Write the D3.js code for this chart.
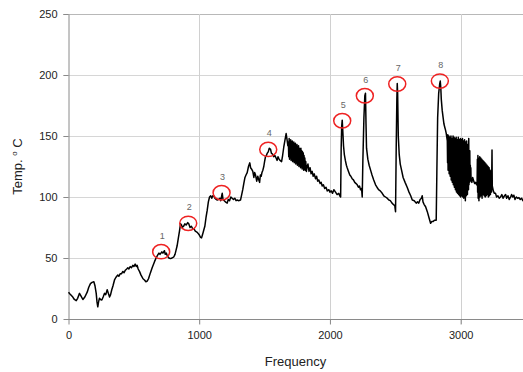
<!DOCTYPE html>
<html>
<head>
<meta charset="utf-8">
<script src="https://cdn.jsdelivr.net/npm/d3@7"></script>
<style>
  body { margin: 0; background: #fff; }
  svg { font-family: "Liberation Sans", Arial, sans-serif; }
</style>
</head>
<body>
<div id="chart"></div>
<script>
// temperature trace [frequency, temp]
const trace = [
  [0,22],[15,20],[33,18],[45,16],[59,15],[70,17],[84,21],[95,19],[110,16],[125,18],
  [143,22],[155,26],[168,29],[180,30],[194,30.5],[203,27],[212,21],[218,14],[224,10],[230,14],
  [237,17],[245,16],[255,15.6],[265,18],[275,21],[285,20],[296,24],[305,21],[314,18],[322,20],
  [331,24],[340,27],[352,32],[362,34],[377,36],[385,35],[395,37],[405,37],[416,39],[425,38],
  [435,40],[445,41],[454,42],[462,41],[472,43],[482,42],[492,44],[500,43],[510,45],[518,43],
  [525,44],[533,41],[543,39],[555,36],[570,33],[581,32],[592,30.5],[602,31],[612,33],[627,38],
  [640,42],[658,47],[670,50],[683,52.5],[692,54],[700,53],[714,55],[722,54],[734,56],[740,53],
  [748,54],[755,52],[768,50],[780,49.5],[792,50],[806,51],[815,53],[822,56],[831,60],[840,66],
  [849,72],[857,78],[865,77],[870,75],[880,76],[890,78],[900,77],[912,79],[920,78],[930,75],
  [940,76],[950,74],[959,74],[970,72],[985,71],[1000,69],[1010,67],[1018,66.5],[1025,69],[1035,73],
  [1043,76],[1053,84],[1061,89],[1070,96],[1079,100],[1088,101],[1096,99],[1104,101],[1112,100.8],[1120,99],
  [1130,98],[1138,97.5],[1148,98],[1158,99],[1165,97],[1172,101],[1176,103],[1182,98],[1192,97],[1200,96],
  [1214,95],[1222,98],[1232,97],[1242,100],[1252,99],[1262,98],[1272,99],[1282,97],[1290,97.5],[1300,97],
  [1316,97.5],[1325,102],[1333,106],[1341,111],[1350,116],[1358,118],[1367,120],[1377,125],[1387,128],[1393,124],
  [1400,123],[1410,121],[1418,116],[1424,120],[1431,118],[1440,113],[1448,117],[1456,114],[1462,112],[1468,118],
  [1474,117],[1480,120],[1487,122],[1494,125],[1500,129],[1507,133],[1514,134],[1521,136],[1528,137],[1536,140],
  [1546,139],[1552,136],[1562,135],[1570,133],[1579,134],[1588,132],[1596,130],[1603,133],[1609,131.5],[1618,130],
  [1630,129],[1638,134],[1647,141],[1655,146],[1665,152],[1672,147],[1678,142],
  // noisy stretch after peak 4
  [1682,145],[1685,133],[1688,148],[1691,131],[1694,146],[1697,134],[1700,147],[1703,130],[1706,145],[1709,132],
  [1712,146],[1715,129],[1718,144],[1721,131],[1724,145],[1727,128],[1730,143],[1733,130],[1736,144],[1739,127],
  [1742,142],[1745,129],[1748,143],[1751,126],[1754,141],[1757,128],[1760,142],[1763,125],[1766,140],[1769,127],
  [1772,139],[1775,124],[1778,140],[1781,126],[1784,138],[1787,123],[1790,137],[1793,125],[1796,136],[1799,122],
  [1802,134],[1805,124],[1808,132],[1811,122],[1815,129],[1820,121],[1826,125],
  [1832,127],[1840,121],[1848,124],[1856,119],[1864,121],[1872,117],[1880,119],[1890,115],[1898,117],[1906,113],
  [1915,114],[1925,111],[1933,112],[1941,109],[1950,110],[1960,107],[1970,108],[1980,105],[1992,106],[2000,104],
  [2010,105],[2020,103],[2030,106],[2043,104],[2055,102],[2068,103],[2075,101],[2082,100],
  // peak 5
  [2086,140],[2090,158],[2094,163],[2098,155],[2104,142],[2110,135],[2118,130],[2126,126],[2132,124],[2142,121],
  [2152,118],[2160,117],[2170,115],[2180,114],[2190,112],[2200,111],[2209,110],[2218,108],[2226,109],[2234,106],
  [2242,107],[2247,100],
  // peak 6
  [2252,130],[2260,165],[2267,183],[2272,185],[2276,160],[2280,140],[2290,131],[2300,126],[2311,122],[2322,118],
  [2335,114],[2349,110],[2360,108],[2372,106],[2385,105],[2400,103],[2412,101],[2425,100],[2438,99],[2451,97.5],
  [2462,97],[2475,95],[2489,93.5],[2496,93],[2502,88],
  // peak 7
  [2507,140],[2512,180],[2515,193],[2518,185],[2523,150],[2530,135],[2538,127],[2548,122],[2560,116],[2575,112],
  [2591,108],[2605,104],[2618,101],[2630,97.5],[2645,97],[2660,95],[2670,96],[2680,95],[2690,98],[2700,99],
  [2706,101],[2712,96],[2720,94],[2732,92],[2745,88],[2758,83],[2770,78.5],[2780,80],[2790,80],[2800,81],[2813,81],
  // peak 8
  [2818,120],[2824,165],[2832,185],[2840,193],[2844,195],[2848,190],[2852,180],[2859,171],[2866,165],[2872,160],
  [2879,157],[2884,155],[2890,152],
  [2898,146],[2900,128],[2902,151],[2904,122],[2906,147],[2908,126],[2910,150],[2912,119],[2914,145],[2916,124],
  [2918,149],[2920,117],[2922,146],[2924,121],[2926,150],[2928,114],[2930,144],[2932,119],[2934,148],[2936,112],
  [2938,146],[2940,117],[2942,150],[2944,110],[2946,143],[2948,114],[2950,149],[2952,108],[2954,146],[2956,113],
  [2958,148],[2960,106],[2962,142],[2964,110],[2966,149],[2968,104],[2970,145],[2972,109],[2974,147],[2976,103],
  [2978,140],[2980,108],[2982,149],[2984,102],[2986,143],[2988,107],[2990,147],[2992,101],[2994,141],[2996,106],
  [2998,148],[3000,100],[3002,144],[3004,105],[3006,147],[3008,101],[3010,139],[3012,106],[3014,148],[3016,100],
  [3018,142],[3020,104],[3022,146],[3024,99],[3026,138],[3028,105],[3030,147],[3032,100],[3034,140],[3036,97],
  [3038,145],[3040,103],[3042,137],[3044,101],[3046,146],[3048,105],[3050,136],[3052,102],[3054,143],[3056,108],
  [3058,135],[3060,106],[3062,148],[3064,110],[3066,132],[3068,112],[3070,138],[3072,114],[3074,126],[3076,116],
  [3078,124],[3080,113],[3086,112],[3092,116],[3100,113],[3108,111],[3115,112],[3122,110],
  [3126,112],[3128,131],[3130,104],[3132,134],[3134,99],[3136,132],[3138,106],[3140,97],[3142,131],[3144,103],
  [3146,133],[3148,100],[3150,130],[3152,105],[3154,132],[3156,101],[3158,129],[3160,104],[3162,131],[3164,99],
  [3166,128],[3168,105],[3170,130],[3172,102],[3174,127],[3176,106],[3178,129],[3180,101],[3182,126],[3184,104],
  [3186,128],[3188,100],[3190,125],[3192,105],[3194,127],[3196,101],[3198,124],[3200,106],[3202,126],[3204,102],
  [3206,123],[3208,104],[3210,125],[3212,100],[3214,122],[3216,105],[3218,124],[3220,101],[3222,120],[3224,104],
  [3226,122],[3228,102],[3230,119],[3232,106],[3234,121],[3236,104],[3238,120],[3240,138.5],[3242,109],[3246,107],
  [3250,105],[3258,103],[3267,103],[3275,100],[3285,101],[3295,99],[3305,100],[3315,102],[3325,99],[3335,101],
  [3344,102],[3352,99],[3362,101],[3372,98],[3382,100],[3390,102],[3398,100],[3407,101.5],[3416,98],[3426,100],
  [3436,99],[3446,99.5],[3456,98],[3466,99],[3476,97],[3490,97.5],[3500,98]
];

// circled peaks
const peakFreq = [709, 916, 1171, 1528, 2094, 2267, 2515, 2841];
const peakTemp = [55.2, 78.4, 103.5, 139, 162.5, 183, 192.6, 195];
const peakLabels = ['1', '2', '3', '4', '5', '6', '7', '8'];

const xTicks = [0, 1000, 2000, 3000];
const yTicks = [0, 50, 100, 150, 200, 250];

const width = 523, height = 372;
const plotLeft = 68, plotTop = 14, plotBottom = 319, plotRight = 523;

const svg = d3.select('#chart').append('svg')
  .attr('width', width)
  .attr('height', height);

const x = d3.scaleLinear().domain([0, 3500]).range([68.5, 526]);
const y = d3.scaleLinear().domain([0, 250]).range([plotBottom, plotTop]);

// grid
svg.append('g').selectAll('line')
  .data(yTicks.filter(d => d > 0))
  .enter().append('line')
    .attr('x1', plotLeft - 5).attr('x2', plotRight)
    .attr('y1', d => Math.round(y(d)) + 0.5).attr('y2', d => Math.round(y(d)) + 0.5)
    .attr('stroke', d => d === 250 ? '#b8b8b8' : '#d6d6d6');
svg.append('g').selectAll('line')
  .data(xTicks.filter(d => d > 0))
  .enter().append('line')
    .attr('x1', d => Math.round(x(d)) + 0.5).attr('x2', d => Math.round(x(d)) + 0.5)
    .attr('y1', plotTop).attr('y2', plotBottom + 5)
    .attr('stroke', '#d0d0d0');

// axes
const yAxis = svg.append('g')
  .attr('transform', `translate(${plotLeft + 0.5},0)`)
  .call(d3.axisLeft(y).tickValues(yTicks).tickSize(5).tickSizeOuter(0).tickPadding(6));
const xAxis = svg.append('g')
  .attr('transform', `translate(0,${plotBottom + 0.5})`)
  .call(d3.axisBottom(x).tickValues(xTicks).tickFormat(d3.format('d')).tickSize(5).tickSizeOuter(0).tickPadding(7));
[xAxis, yAxis].forEach(a => {
  a.select('.domain').attr('stroke', '#8a8a8a');
  a.selectAll('.tick line').attr('stroke', '#8a8a8a');
  a.selectAll('.tick text').attr('fill', '#222').style('font-size', '11px')
    .style('font-family', '"Liberation Sans", Arial, sans-serif');
});
xAxis.select('.domain').attr('d', `M${plotLeft},0H${plotRight}`);

// trace
svg.append('path')
  .datum(trace)
  .attr('fill', 'none')
  .attr('stroke', '#000')
  .attr('stroke-width', 1.5)
  .attr('stroke-linejoin', 'round')
  .attr('d', d3.line().x(d => x(d[0])).y(d => y(d[1])));

// peak markers
const peaks = peakFreq.map((f, i) => ({ f, t: peakTemp[i], label: peakLabels[i] }));
const pk = svg.append('g').selectAll('g').data(peaks).enter().append('g');
pk.append('ellipse')
  .attr('cx', d => x(d.f)).attr('cy', d => y(d.t))
  .attr('rx', 8.5).attr('ry', 7.2)
  .attr('fill', 'none').attr('stroke', '#ee2222').attr('stroke-width', 1.5);
pk.append('text')
  .attr('x', d => x(d.f) + 1).attr('y', d => y(d.t) - 13)
  .attr('text-anchor', 'middle')
  .attr('fill', '#666')
  .style('font-size', '9px')
  .text(d => d.label);

// axis titles
svg.append('text')
  .attr('x', (plotLeft + plotRight) / 2).attr('y', 366)
  .attr('text-anchor', 'middle')
  .attr('fill', '#222')
  .style('font-size', '13px')
  .text('Frequency');

const yt = svg.append('text')
  .attr('transform', `translate(22,${(plotTop + plotBottom) / 2}) rotate(-90)`)
  .attr('text-anchor', 'middle')
  .attr('fill', '#222')
  .style('font-size', '13px');
yt.append('tspan').text('Temp. ');
yt.append('tspan').attr('dy', -5).style('font-size', '8px').text('o');
yt.append('tspan').attr('dy', 5).text(' C');
</script>
</body>
</html>
